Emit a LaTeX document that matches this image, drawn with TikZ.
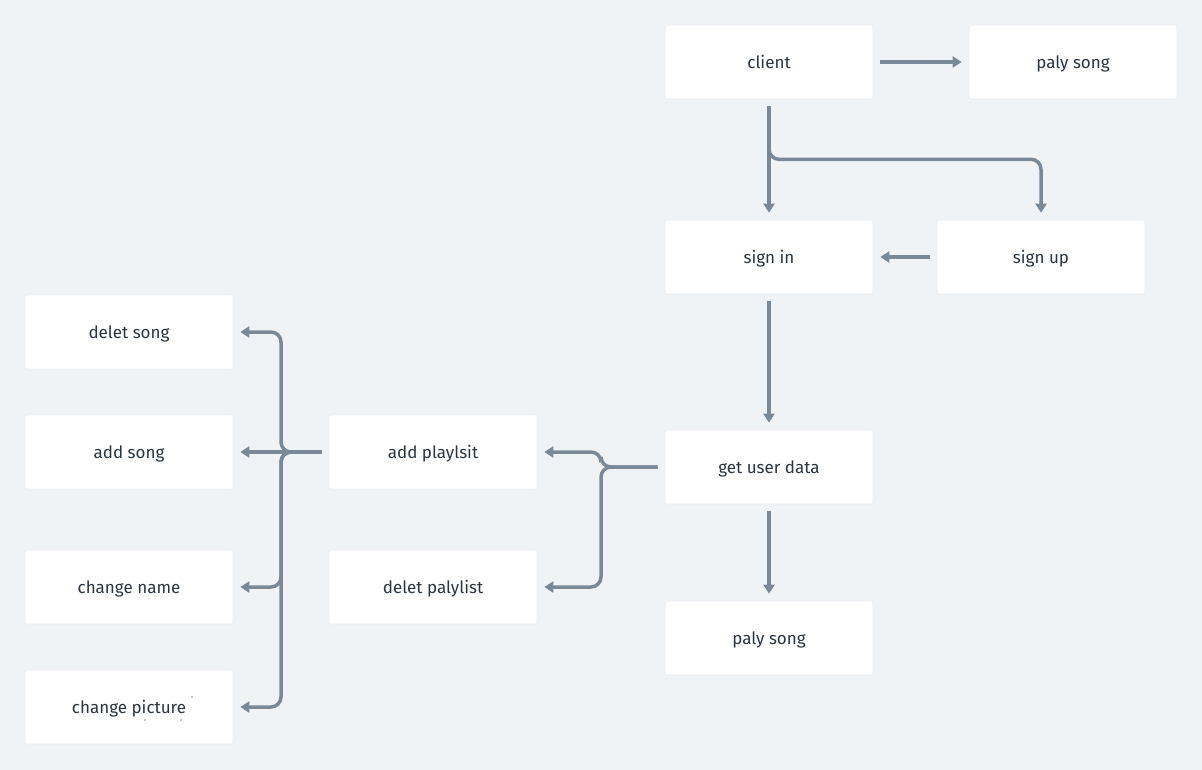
\documentclass[tikz,border=0pt]{standalone}
\usepackage{fontspec}
\setmainfont{Fira Sans}
\usetikzlibrary{arrows.meta,calc}
\definecolor{bgc}{HTML}{F0F3F6}
\definecolor{linec}{HTML}{7A8998}
\definecolor{txtc}{HTML}{2A3540}
\definecolor{edgec}{HTML}{E6EAEE}
\tikzset{
  box/.style={fill=white, draw=edgec, line width=0.6pt, rounded corners=2pt, minimum width=208pt, minimum height=74pt, text=txtc, font=\fontsize{17}{20}\selectfont, inner sep=0pt, text depth=0.5pt},
  conn/.style={draw=linec, line width=3.5pt, -{Triangle[length=9pt,width=11pt]}, rounded corners=10pt}
}
\begin{document}
\begin{tikzpicture}[x=1pt,y=-1pt]
\fill[bgc] (0,0) rectangle (1202,770);
\useasboundingbox (0,0) rectangle (1202,770);
\node[box] (client) at (769,62) {client};
\node[box] (play1) at (1073,62) {paly song};
\node[box] (signin) at (769,257) {sign in};
\node[box] (signup) at (1041,257) {sign up};
\node[box] (gud) at (769,467) {get user data};
\node[box] (play2) at (769,638) {paly song};
\node[box] (addpl) at (433,452) {add playlsit};
\node[box] (delpl) at (433,587) {delet palylist};
\node[box] (delsong) at (129,332) {delet song};
\node[box] (addsong) at (129,452) {add song};
\node[box] (chname) at (129,587) {change name};
\node[box] (chpic) at (129,707) {change picture};
% stray dots
\fill[linec] (192,697) circle (0.8);
\fill[linec] (145,720) circle (0.8);
\fill[linec] (181,720) circle (0.8);
% connectors
\coordinate (cb) at ($(client.south)+(0,7)$);
\coordinate (cj) at ($(client.south)+(0,60)$);
\coordinate (gj) at (601,467);
\coordinate (aj) at (281,452);
\draw[conn] ([xshift=7pt]client.east) -- ([xshift=-7pt]play1.west);
\draw[conn] (cb) -- ([yshift=7pt]signin.north);
\draw[conn] (cb) -- (cj) -| ([yshift=7pt]signup.north);
\draw[conn] ([xshift=-7pt]signup.west) -- ([xshift=7pt]signin.east);
\draw[conn] ([yshift=-7pt]signin.south) -- ([yshift=7pt]gud.north);
\draw[conn] ([yshift=-7pt]gud.south) -- ([yshift=7pt]play2.north);
\draw[conn] ([xshift=-7pt]gud.west) -- (gj) |- ([xshift=7pt]addpl.east);
\draw[conn] ([xshift=-7pt]gud.west) -- (gj) |- ([xshift=7pt]delpl.east);
\draw[conn] ([xshift=-7pt]addpl.west) -- ([xshift=7pt]addsong.east);
\draw[conn] ([xshift=-7pt]addpl.west) -- (aj) |- ([xshift=7pt]delsong.east);
\draw[conn] ([xshift=-7pt]addpl.west) -- (aj) |- ([xshift=7pt]chname.east);
\draw[conn] ([xshift=-7pt]addpl.west) -- (aj) |- ([xshift=7pt]chpic.east);
\end{tikzpicture}
\end{document}
